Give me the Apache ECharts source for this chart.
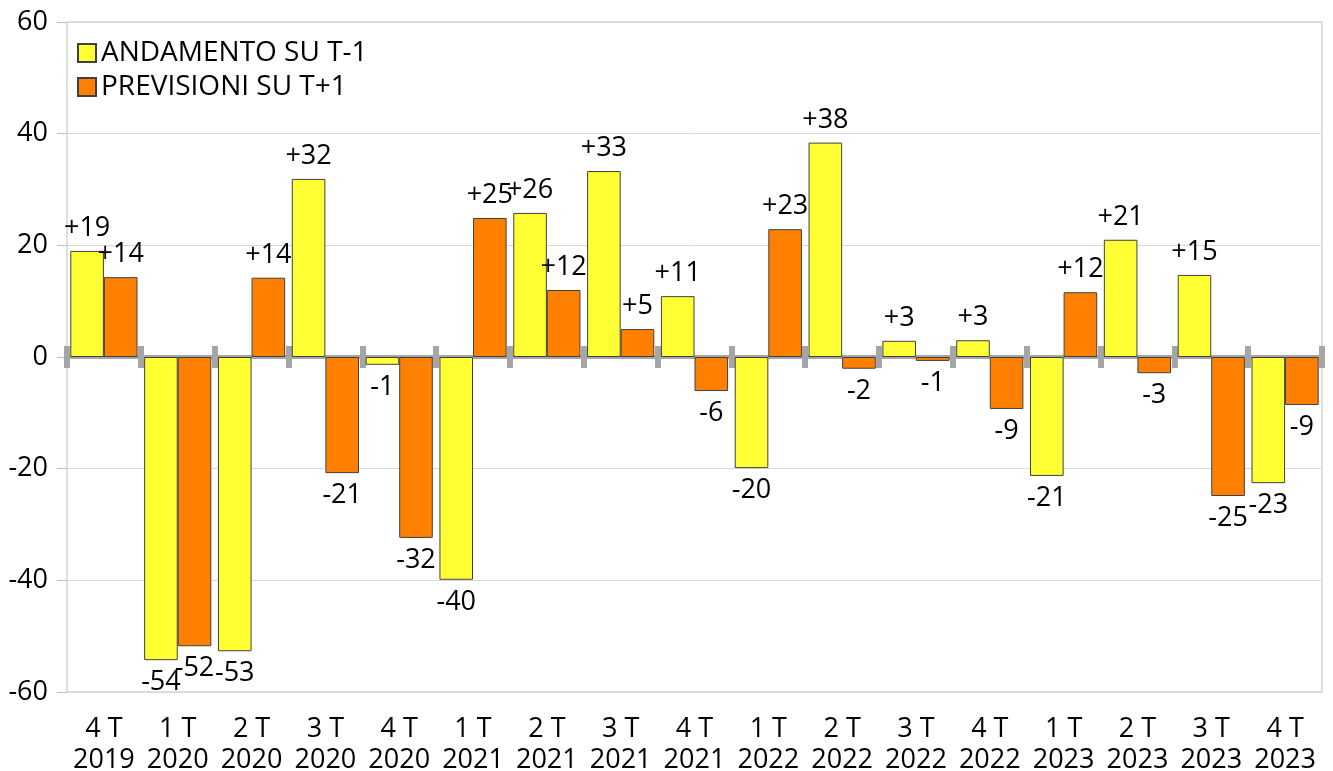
<!DOCTYPE html>
<html>
<head>
<meta charset="utf-8">
<script src="https://cdn.jsdelivr.net/npm/echarts@6/dist/echarts.min.js"></script>
<style>
html, body { margin: 0; padding: 0; background: #fff; }
#chart { width: 1333px; height: 771px; }
</style>
</head>
<body>
<div id="chart"></div>
<script>
var quarters = ['4 T\n2019', '1 T\n2020', '2 T\n2020', '3 T\n2020', '4 T\n2020', '1 T\n2021', '2 T\n2021', '3 T\n2021', '4 T\n2021',
  '1 T\n2022', '2 T\n2022', '3 T\n2022', '4 T\n2022', '1 T\n2023', '2 T\n2023', '3 T\n2023', '4 T\n2023'];
var andamento = [19, -54.3, -52.7, 31.9, -1.4, -39.9, 25.8, 33.3, 10.9, -19.9, 38.4, 2.9, 3.0, -21.3, 21.0, 14.7, -22.6];
var previsioni = [14.3, -51.8, 14.2, -20.8, -32.4, 24.9, 12.0, 5.0, -6.1, 22.9, -2.1, -0.7, -9.3, 11.6, -2.9, -24.9, -8.6];
var yTicks = [-60, -40, -20, 0, 20, 40, 60];

var font = '"Open Sans", sans-serif';
var chart = echarts.init(document.getElementById('chart'));

function withLabels(arr) {
  return arr.map(function (v) {
    return { value: v, label: { position: v >= 0 ? 'top' : 'bottom' } };
  });
}
function fmt(p) {
  var r = Math.round(p.value);
  return r > 0 ? '+' + r : String(r);
}

var barLabel = {
  show: true,
  formatter: fmt,
  fontFamily: font,
  fontSize: 27,
  color: '#000',
  distance: 9
};

var option = {
  animation: false,
  textStyle: { fontFamily: font },
  legend: {
    orient: 'vertical',
    left: 72,
    top: 34,
    itemWidth: 18,
    itemHeight: 18,
    itemGap: 6,
    icon: 'rect',
    textStyle: { fontSize: 28, color: '#000', fontFamily: font },
    data: ['ANDAMENTO SU T-1', 'PREVISIONI SU T+1']
  },
  grid: [
    { left: 67, right: 11, top: 22, bottom: 79, outerBoundsMode: 'none', containLabel: false,
      show: true, borderColor: '#bfbfbf', borderWidth: 1 },
    { left: 67, right: 11, top: 22, bottom: 79, outerBoundsMode: 'none', containLabel: false }
  ],
  xAxis: [
    {
      type: 'category', gridIndex: 0, data: quarters, position: 'bottom',
      axisLine: { show: false, onZero: false },
      axisTick: { show: false },
      axisLabel: { fontSize: 27, color: '#000', lineHeight: 31, margin: 22, interval: 0, fontFamily: font }
    },
    {
      type: 'category', gridIndex: 1, data: quarters, position: 'bottom',
      axisLine: { show: true, onZero: true, lineStyle: { color: '#a6a6a6', width: 4 } },
      axisTick: { show: true, length: 11, lineStyle: { color: '#a6a6a6', width: 6 } },
      axisLabel: { show: false }
    },
    {
      type: 'category', gridIndex: 1, data: quarters, position: 'top',
      axisLine: { show: false, onZero: true, onZeroAxisIndex: 1 },
      axisTick: { show: true, length: 11, lineStyle: { color: '#a6a6a6', width: 6 } },
      axisLabel: { show: false }
    }
  ],
  yAxis: [
    {
      type: 'value', gridIndex: 0, min: yTicks[0], max: yTicks[yTicks.length - 1], interval: 20,
      axisLine: { show: false },
      axisTick: { show: true, length: 10, lineStyle: { color: '#bfbfbf' } },
      axisLabel: { fontSize: 27, color: '#000', margin: 19, fontFamily: font },
      splitLine: { lineStyle: { color: '#d9d9d9', width: 1 } }
    },
    {
      type: 'value', gridIndex: 1, min: yTicks[0], max: yTicks[yTicks.length - 1], interval: 20,
      show: false, splitLine: { show: false }
    }
  ],
  series: [
    {
      name: 'ANDAMENTO SU T-1', type: 'bar', xAxisIndex: 0, yAxisIndex: 0,
      barGap: 0, barCategoryGap: '9%',
      itemStyle: { color: '#ffff33', borderColor: '#404040', borderWidth: 1 },
      label: barLabel,
      data: withLabels(andamento),
      z: 3
    },
    {
      name: 'PREVISIONI SU T+1', type: 'bar', xAxisIndex: 0, yAxisIndex: 0,
      barGap: 0, barCategoryGap: '9%',
      itemStyle: { color: '#ff8000', borderColor: '#404040', borderWidth: 1 },
      label: barLabel,
      data: withLabels(previsioni),
      z: 3
    }
  ]
};
chart.setOption(option);
</script>
</body>
</html>
